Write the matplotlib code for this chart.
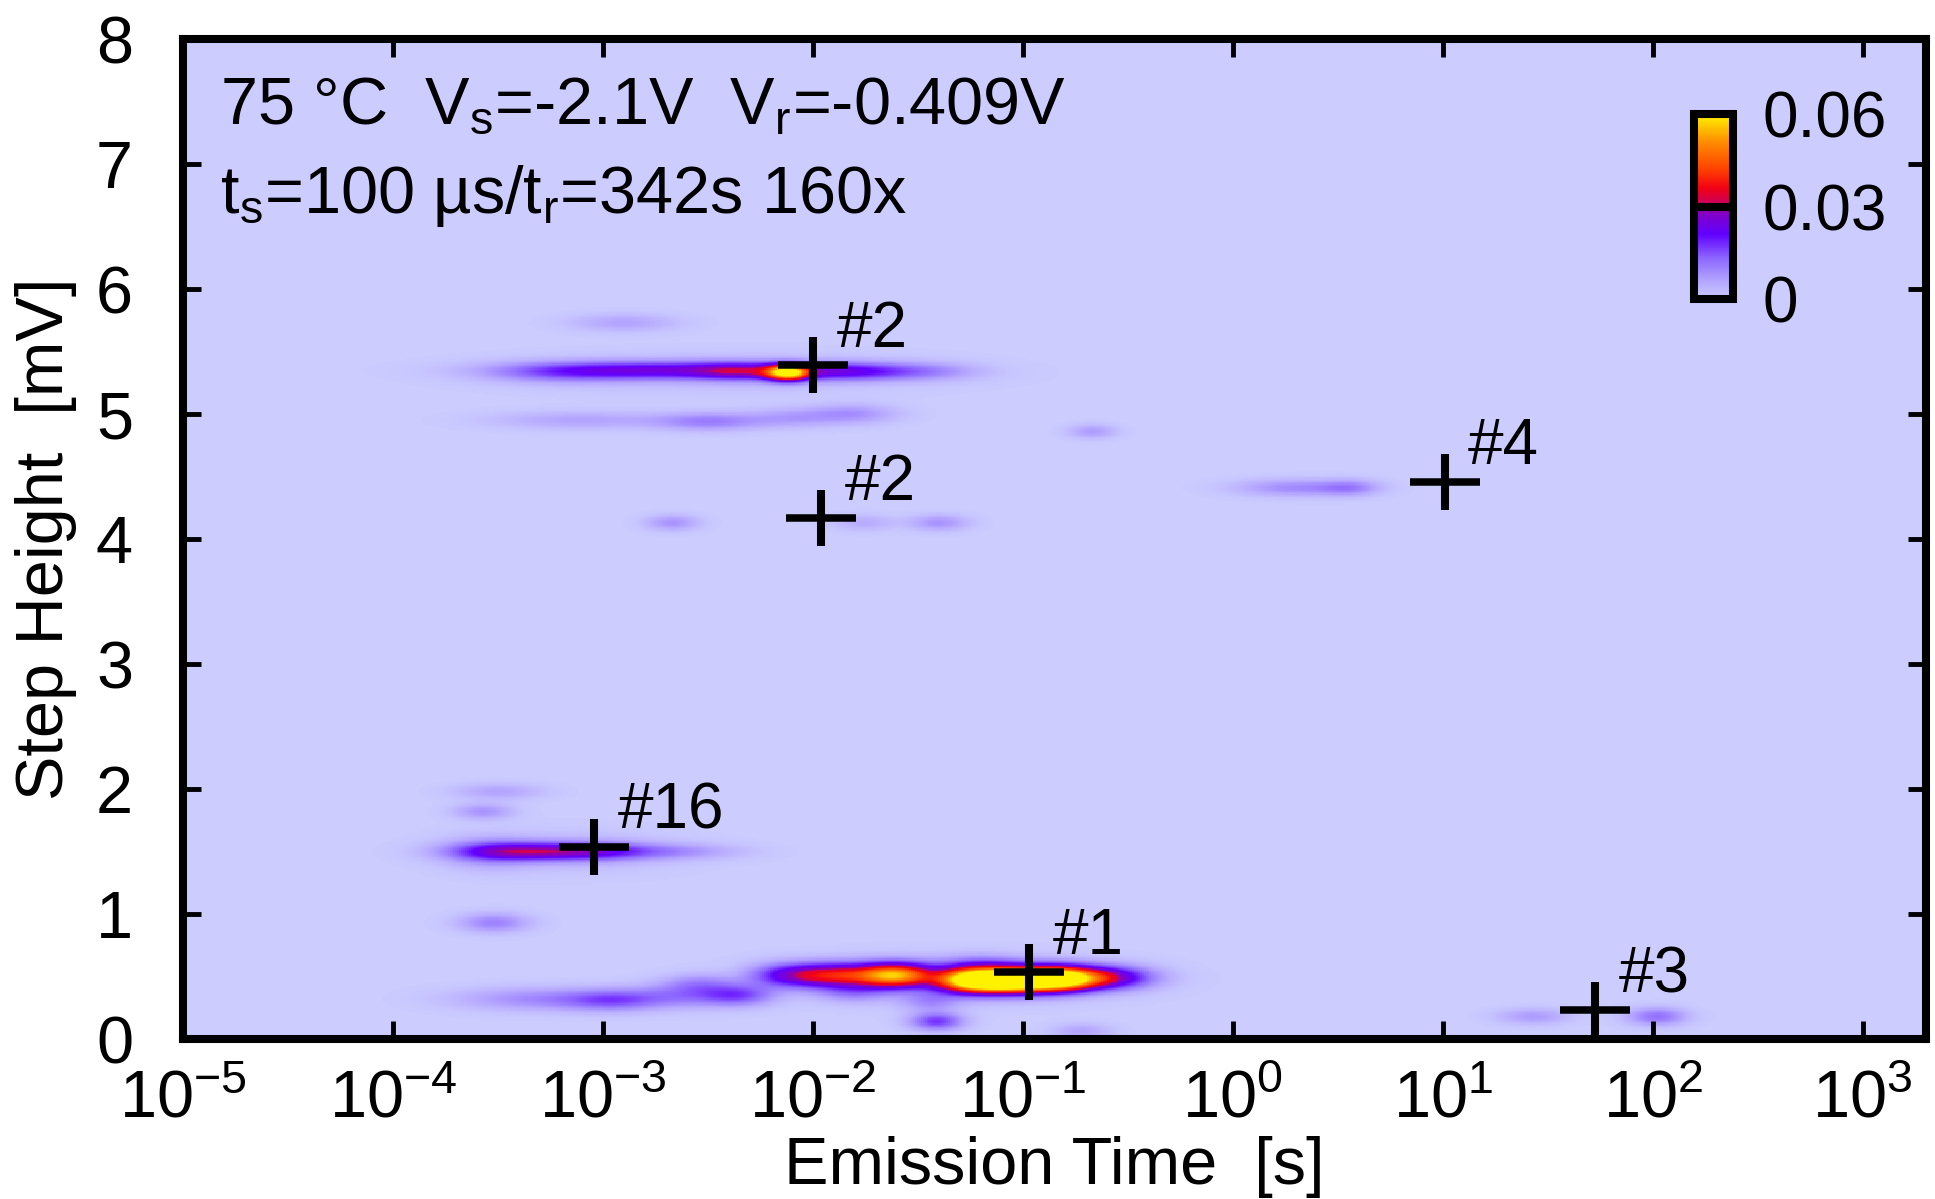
import numpy as np
import matplotlib.pyplot as plt
from matplotlib.colors import LinearSegmentedColormap
from matplotlib.ticker import NullLocator

plt.rcParams['font.family'] = ['Liberation Sans', 'DejaVu Sans']
plt.rcParams['mathtext.fontset'] = 'custom'
plt.rcParams['mathtext.rm'] = 'Liberation Sans'
plt.rcParams['mathtext.it'] = 'Liberation Sans:italic'
plt.rcParams['mathtext.bf'] = 'Liberation Sans:bold'

# TDDS map: gaussian lobes in (log10 emission time, step height)
# order: trap #1 band, band below it, #16 region, #2 region, isolated lobes, halos
lobe_logtau = [-2.15, -1.90, -1.60, -1.24, -1.05, -0.84, -0.62, -1.20,
               -3.30, -2.95, -2.60, -2.35, -2.54, -1.81, -1.44, -1.41, -0.72,
               -3.40, -3.05, -2.65, -3.55, -3.50, -3.57, -3.52,
               -2.12, -2.35, -2.70, -1.85, -3.20, -1.45, -2.90,
               -3.10, -2.49, -2.10, -1.81,
               -2.67, -1.76, -1.40,
               -0.67, 0.30, 0.56, 1.43, 2.02,
               -1.35, -2.40, -3.15]
lobe_height = [0.51, 0.51, 0.51, 0.47, 0.47, 0.48, 0.49, 0.60,
               0.32, 0.31, 0.35, 0.35, 0.45, 0.37, 0.30, 0.14, 0.06,
               1.50, 1.50, 1.50, 1.49, 1.98, 1.82, 0.93,
               5.33, 5.34, 5.35, 5.34, 5.33, 5.34, 5.73,
               4.95, 4.94, 4.97, 5.00,
               4.13, 4.13, 4.13,
               4.86, 4.41, 4.41, 0.18, 0.18,
               0.48, 5.33, 1.50]
lobe_wtau = [0.12, 0.17, 0.12, 0.12, 0.12, 0.12, 0.16, 0.15,
             0.28, 0.16, 0.18, 0.12, 0.12, 0.12, 0.10, 0.09, 0.10,
             0.22, 0.20, 0.22, 0.15, 0.15, 0.10, 0.12,
             0.07, 0.15, 0.45, 0.22, 0.25, 0.18, 0.18,
             0.30, 0.18, 0.15, 0.15,
             0.09, 0.10, 0.10,
             0.08, 0.20, 0.10, 0.12, 0.10,
             0.50, 0.65, 0.35]
lobe_wheight = [0.068, 0.068, 0.068, 0.068, 0.068, 0.068, 0.066, 0.055,
                0.065, 0.060, 0.070, 0.060, 0.055, 0.055, 0.055, 0.050, 0.045,
                0.050, 0.050, 0.045, 0.090, 0.045, 0.045, 0.055,
                0.045, 0.048, 0.050, 0.050, 0.060, 0.050, 0.050,
                0.050, 0.050, 0.055, 0.055,
                0.045, 0.045, 0.045,
                0.040, 0.048, 0.045, 0.045, 0.050,
                0.120, 0.100, 0.110]
lobe_weight = [0.012, 0.034, 0.045, 0.063, 0.063, 0.063, 0.030, 0.008,
               0.009, 0.012, 0.010, 0.013, 0.007, 0.008, 0.008, 0.017, 0.006,
               0.021, 0.016, 0.007, 0.007, 0.006, 0.008, 0.010,
               0.048, 0.013, 0.020, 0.018, 0.008, 0.007, 0.006,
               0.006, 0.010, 0.006, 0.008,
               0.008, 0.005, 0.008,
               0.007, 0.009, 0.008, 0.007, 0.012,
               0.005, 0.004, 0.004]

# extracted defects
trap_tau = [1.0e-2, 1.09e-2, 10.2, 9.1e-4, 0.107, 53.0]
trap_height = [5.39, 4.17, 4.46, 1.54, 0.54, 0.23]
trap_label = ['#2', '#2', '#4', '#16', '#1', '#3']

cbar_ticks = [0, 0.03, 0.06]
cbar_ticklabels = ['0', '0.03', '0.06']

# build density grid
logt = np.linspace(-5, np.log10(2000), 900)
dv = np.linspace(0, 8, 801)
LT, DV = np.meshgrid(logt, dv)
density = np.zeros_like(LT)
for lt, h, wt, wh, a in zip(lobe_logtau, lobe_height, lobe_wtau, lobe_wheight, lobe_weight):
    density += a * np.exp(-0.5 * ((LT - lt) / wt) ** 2 - 0.5 * ((DV - h) / wh) ** 2)

cmap = LinearSegmentedColormap.from_list('tdds', [
    (0.00, (0.80, 0.80, 1.00)),
    (0.10, (0.70, 0.64, 1.00)),
    (0.22, (0.55, 0.40, 1.00)),
    (0.35, (0.38, 0.00, 1.00)),
    (0.45, (0.50, 0.00, 0.80)),
    (0.50, (0.60, 0.00, 0.62)),
    (0.52, (0.80, 0.00, 0.35)),
    (0.60, (0.95, 0.00, 0.08)),
    (0.70, (1.00, 0.25, 0.00)),
    (0.85, (1.00, 0.55, 0.00)),
    (1.00, (1.00, 0.95, 0.00)),
])

fig = plt.figure(figsize=(19.35, 11.99), dpi=100)
ax = fig.add_axes([0.0946, 0.1334, 0.9007, 0.834])

mesh = ax.pcolormesh(10.0 ** logt, dv, density, cmap=cmap, vmin=0, vmax=0.06,
                     shading='auto', rasterized=True)
ax.set_xscale('log')
ax.set_xlim(1e-5, 2000)
ax.set_ylim(0, 8)
ax.set_xticks(10.0 ** np.arange(-5, 4))
ax.xaxis.set_minor_locator(NullLocator())
ax.set_yticks(range(0, 9))

for s in ax.spines.values():
    s.set_linewidth(5.8)
ax.tick_params(which='major', direction='in', length=13, width=3.5,
               top=True, right=True, labelsize=48)
ax.tick_params(axis='x', pad=22)
ax.tick_params(axis='y', pad=36)

ax.set_xlabel('Emission Time  [s]', fontsize=48)
ax.set_ylabel('Step Height  [mV]', fontsize=48)
ax.xaxis.set_label_coords(0.5, -0.097)
ax.yaxis.set_label_coords(-0.061, 0.5)

# defect markers
ax.plot(trap_tau, trap_height, ls='none', marker='_', ms=50, mew=5.4, color='k')
ax.plot(trap_tau, trap_height, ls='none', marker='|', ms=41, mew=5.8, color='k')
for t, h, lab in zip(trap_tau, trap_height, trap_label):
    ax.annotate(lab, (t, h), xytext=(17, 13), textcoords='offset points',
                fontsize=46, ha='left', va='baseline')

ax.text(0.0212, 0.916, r'75 °C  V$_\mathrm{s}$=-2.1V  V$_\mathrm{r}$=-0.409V',
        transform=ax.transAxes, fontsize=48, va='baseline')
ax.text(0.0212, 0.826, r't$_\mathrm{s}$=100 µs/t$_\mathrm{r}$=342s 160x',
        transform=ax.transAxes, fontsize=48, va='baseline')

# colour box
cax = fig.add_axes([0.8755, 0.7506, 0.02016, 0.1543])
cb = fig.colorbar(mesh, cax=cax, ticks=cbar_ticks)
cb.ax.set_yticklabels(cbar_ticklabels)
cb.ax.tick_params(length=0, pad=21, labelsize=46)
cb.outline.set_linewidth(5.8)
cax.axhline(0.03, color='k', lw=5.8)

fig.savefig('out.png', dpi=100)
